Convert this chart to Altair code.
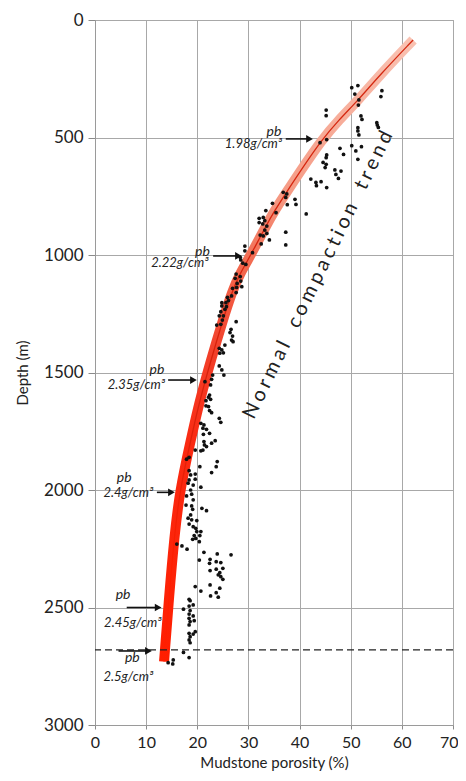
import altair as alt
import pandas as pd

FONT = "Lato"

# ---- Normal compaction trend (porosity % vs depth m) ----
trend_depth = [85, 234, 340, 425, 511, 645, 738, 808, 886, 965, 1021, 1078, 1149,
               1291, 1461, 1532, 1645, 1800, 2000, 2200, 2450, 2730]
trend_porosity = [62.2, 55.7, 51.5, 47.7, 44.3, 40.1, 37.3, 35.2, 33.2, 31.3, 29.9, 28.4, 26.9,
                  24.8, 22.5, 21.6, 20.2, 18.6, 16.6, 15.5, 14.5, 13.5]

# ---- Mudstone samples ----
sample_porosity = [
    50.2, 51.4, 50.8, 51.6, 51.5, 56.1, 55.9, 45.2, 45.2, 52.0, 52.2, 55.1, 55.2, 55.4,
    51.4, 51.4, 51.6, 44.0, 45.3, 50.2, 51.0, 52.1, 51.4, 47.9, 48.6, 45.3, 45.2, 44.6,
    45.2, 45.0, 46.9, 48.1, 47.1, 47.6, 42.2, 43.2, 44.2, 43.3, 45.3, 36.8, 37.5, 37.3,
    37.6, 39.1, 39.3, 41.3, 34.7, 35.4, 33.4, 32.9, 33.2, 32.1, 32.1, 32.8, 33.6, 33.2,
    32.3, 32.9, 33.6, 34.1, 32.5, 37.3, 37.3, 29.3, 29.3, 30.8, 28.4, 28.5, 28.9, 29.5,
    27.6, 27.4, 28.4, 28.5, 27.8, 28.7, 27.7, 26.9, 27.6, 26.7, 25.9,
    26.1, 25.6, 24.8, 25.7, 25.4, 24.8, 24.6, 24.3, 25.1, 24.9, 24.6, 23.8, 27.6, 26.6,
    26.4, 26.9, 26.7, 27.0, 24.3, 24.8, 25.1, 24.4, 25.4, 24.3, 24.8, 25.2, 23.0, 22.8,
    21.5, 22.6, 22.4, 22.2, 22.6, 21.7, 21.7, 22.2,
    22.4, 22.8, 24.3, 24.6, 20.7, 21.3, 21.1, 21.8, 22.4, 21.2, 23.5, 22.8, 21.3, 21.4,
    21.8, 21.1, 20.7, 19.6, 18.4, 17.9, 23.9, 23.7, 22.8, 20.5, 18.4, 19.6, 18.7, 18.4,
    19.6, 18.2, 19.2, 18.7, 20.7, 18.9, 17.9, 19.2, 17.8, 18.9, 19.1, 20.9, 21.8, 18.7,
    18.2, 18.9, 19.9, 18.4, 19.2, 19.7,
    19.9, 20.7, 20.5, 19.4, 19.7, 19.1, 20.4, 16.0, 17.0, 18.0, 21.3, 23.9, 26.6, 20.4,
    22.5, 22.4, 23.7, 24.6, 22.5, 23.7, 25.0, 24.4, 24.1, 24.6, 25.0, 19.6, 22.5, 24.4,
    20.7, 23.7, 22.6, 24.1, 18.4,
    18.6, 19.2, 18.4, 17.3, 18.6, 18.4, 19.2, 18.4, 18.6, 19.4, 18.4, 19.6, 18.4, 18.6,
    19.2, 18.4, 18.6, 17.3, 18.4, 15.3, 15.2, 14.3,
]
sample_depth = [
    288, 279, 315, 340, 362, 301, 326, 383, 407, 408, 423, 437, 447, 457,
    458, 472, 489, 522, 509, 535, 557, 539, 593, 546, 572, 574, 586, 606,
    614, 628, 638, 643, 657, 674, 677, 691, 688, 705, 713, 733, 740, 755,
    786, 763, 785, 825, 780, 820, 811, 840, 854, 844, 862, 868, 877, 894,
    915, 919, 908, 936, 953, 903, 957, 962, 982, 990, 1010, 1021, 1035, 1040,
    1081, 1099, 1092, 1111, 1121, 1135, 1138, 1142, 1160, 1174, 1180,
    1194, 1203, 1203, 1220, 1231, 1217, 1241, 1259, 1259, 1277, 1295, 1298, 1284, 1316,
    1330, 1345, 1362, 1369, 1397, 1404, 1416, 1418, 1383, 1472, 1489, 1511, 1511, 1529,
    1539, 1553, 1596, 1605, 1614, 1620, 1642, 1645,
    1662, 1671, 1695, 1712, 1716, 1723, 1737, 1742, 1759, 1763, 1790, 1801, 1794, 1808,
    1815, 1830, 1833, 1830, 1861, 1869, 1879, 1901, 1926, 1901, 1918, 1932, 1936, 1957,
    1954, 1971, 1979, 2000, 1988, 2018, 2025, 2042, 2064, 2068, 2082, 2078, 2088, 2106,
    2120, 2127, 2130, 2145, 2156, 2163,
    2177, 2177, 2194, 2194, 2206, 2210, 2220, 2230, 2238, 2252, 2265, 2272, 2276, 2298,
    2295, 2312, 2305, 2309, 2343, 2337, 2333, 2352, 2361, 2369, 2380, 2411, 2404, 2418,
    2430, 2437, 2451, 2456, 2465,
    2471, 2489, 2494, 2507, 2513, 2528, 2536, 2546, 2560, 2556, 2574, 2603, 2610, 2624,
    2613, 2638, 2650, 2691, 2713, 2723, 2740, 2735,
]

# ---- Bulk density annotations ----
density_labels = ["1.98g/cm³", "2.22g/cm³", "2.35g/cm³", "2.4g/cm³", "2.45g/cm³", "2.5g/cm³"]
label_right_x = [36.6, 22.2, 13.7, 11.4, 13.0, 11.4]
label_depth = [528, 1035, 1553, 2011, 2564, 2797]
pb_center_x = [35.0, 21.0, 12.1, 5.7, 5.5, 7.3]
pb_depth = [478, 986, 1489, 1947, 2447, 2716]
arrow_start_x = [37.3, 23.1, 14.3, 12.1, 6.2, 4.6]
arrow_tip_x = [42.6, 28.7, 19.9, 15.6, 13.0, 11.1]
arrow_depth = [506, 1004, 1532, 2010, 2500, 2685]

dashed_depth = [2680]

S = "\u2009\u200a"
trend_text = (S.join("Normal") + "\u2003\u2009" + S.join("compaction") + "\u2003\u2009" + S.join("trend"))
trend_text_pos = [43.6, 1085]

trend_df = pd.DataFrame({"por": trend_porosity, "depth": trend_depth})
samples_df = pd.DataFrame({"por": sample_porosity, "depth": sample_depth})
ann_df = pd.DataFrame({
    "label": density_labels, "lx": label_right_x, "ld": label_depth,
    "px": pb_center_x, "pd": pb_depth,
    "ax": arrow_start_x, "tip": arrow_tip_x, "ad": arrow_depth,
})
ann_df["shaft_end"] = ann_df["tip"] - 1.0
ann_df["head"] = ann_df["tip"] - 0.65
ann_df["pb"] = "pb"
dash_df = pd.DataFrame({"depth": dashed_depth})
text_df = pd.DataFrame({"x": [trend_text_pos[0]], "d": [trend_text_pos[1]], "t": [trend_text]})

xscale = alt.Scale(domain=[0, 70], nice=False, zero=False)
yscale = alt.Scale(domain=[0, 3000], reverse=True, nice=False)

x_axis = alt.Axis(values=list(range(0, 71, 10)), title="Mudstone porosity (%)",
                  labelFontSize=16, labelColor="#222", labelFont=FONT, labelFlush=False,
                  labelOverlap=False, tickSize=4, labelPadding=5,
                  labelAlign={"condition": {"test": "datum.value == 70", "value": "right"},
                              "value": "center"},
                  labelOffset={"condition": {"test": "datum.value == 70", "value": 5},
                               "value": 0},
                  titleFont=FONT, titleFontSize=15, titleFontWeight="normal",
                  titleColor="#222", titlePadding=5, grid=True)
y_axis = alt.Axis(values=list(range(0, 3001, 500)), title="Depth (m)", format="d",
                  labelFontSize=17, labelColor="#222", labelFont=FONT, labelFlush=False,
                  labelOverlap=False, tickSize=7, labelPadding=5,
                  titleFont=FONT, titleFontSize=15, titleFontWeight="normal",
                  titleColor="#222", titlePadding=13, grid=True)


def X(field):
    return alt.X(field, type="quantitative", scale=xscale, axis=x_axis, title="Mudstone porosity (%)")


def Y(field):
    return alt.Y(field, type="quantitative", scale=yscale, axis=y_axis, title="Depth (m)")


band_gradient = alt.Gradient(
    gradient="linear",
    stops=[alt.GradientStop(color="#f9c2b2", offset=0),
           alt.GradientStop(color="#f59a84", offset=0.25),
           alt.GradientStop(color="#f26a50", offset=0.36),
           alt.GradientStop(color="#f2402a", offset=0.5),
           alt.GradientStop(color="#fa2a12", offset=0.65),
           alt.GradientStop(color="#ff1e00", offset=1)],
    x1=0, x2=0, y1=0, y2=1,
)
core_gradient = alt.Gradient(
    gradient="linear",
    stops=[alt.GradientStop(color="#d42a12", offset=0),
           alt.GradientStop(color="#d8200a", offset=0.6),
           alt.GradientStop(color="#ff1e00", offset=0.85),
           alt.GradientStop(color="#ff1e00", offset=1)],
    x1=0, x2=0, y1=0, y2=1,
)

band = alt.Chart(trend_df).mark_line(
    stroke=band_gradient, strokeWidth=10, interpolate="basis", strokeCap="butt"
).encode(x=X("por"), y=Y("depth"), order="depth:Q")

core = alt.Chart(trend_df).mark_line(
    stroke=core_gradient, strokeWidth=1.3, interpolate="basis"
).encode(x=X("por"), y=Y("depth"), order="depth:Q")

dashed = alt.Chart(dash_df).mark_rule(
    color="#222", strokeWidth=1.2, strokeDash=[7, 4]
).encode(y=Y("depth"))

points = alt.Chart(samples_df).mark_circle(size=14, color="#111", opacity=1).encode(
    x=X("por"), y=Y("depth"),
)

shafts = alt.Chart(ann_df).mark_rule(color="#111", strokeWidth=1.6).encode(
    x=X("ax"), x2="shaft_end:Q", y=Y("ad"),
)
heads = alt.Chart(ann_df).mark_point(
    shape="triangle-right", filled=True, size=60, color="#111", opacity=1
).encode(x=X("head"), y=Y("ad"))

pb_text = alt.Chart(ann_df).mark_text(
    font=FONT, fontSize=14, fontStyle="italic", color="#222", align="center", baseline="middle"
).encode(x=X("px"), y=Y("pd"), text="pb:N")

dens_text = alt.Chart(ann_df).mark_text(
    font=FONT, fontSize=13, fontStyle="italic", color="#222", align="right", baseline="middle"
).encode(x=X("lx"), y=Y("ld"), text="label:N")

trend_label = alt.Chart(text_df).mark_text(
    font=FONT, fontSize=20, color="#222", angle=296, align="center", baseline="middle"
).encode(x=X("x"), y=Y("d"), text="t:N")

chart = alt.layer(
    band, core, dashed, points, shafts, heads, pb_text, dens_text, trend_label
).properties(
    width=358, height=705,
    padding={"left": 87, "top": 12, "right": 5, "bottom": 47},
    autosize=alt.AutoSizeParams(type="none"),
    background="white",
).configure_view(
    stroke="#9a9a9a", strokeWidth=1
).configure_axis(
    gridColor="#a8a8a8", gridWidth=1, domainColor="#9a9a9a", tickColor="#8a8a8a",
    domainWidth=1, tickWidth=1,
)

chart.save("out.html", embed_options={"renderer": "svg", "actions": False})
